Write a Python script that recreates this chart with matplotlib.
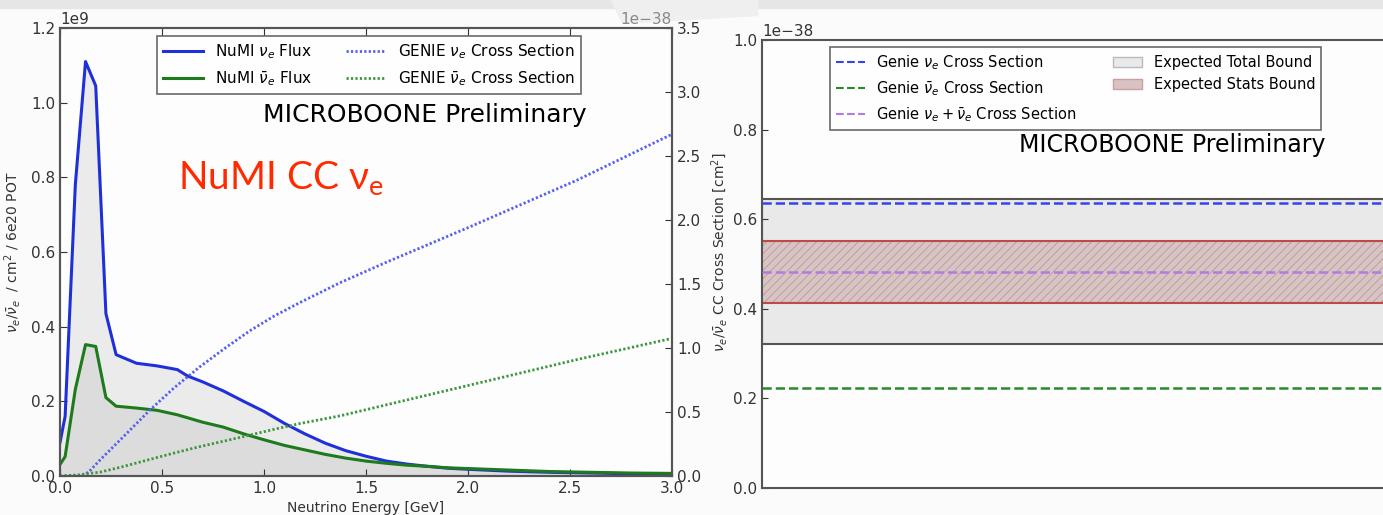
import numpy as np
import matplotlib
matplotlib.use('Agg')
import matplotlib.pyplot as plt
from matplotlib.patches import Patch, Rectangle, Polygon
from matplotlib.lines import Line2D

plt.rcParams['font.family'] = ['DejaVu Sans']
plt.rcParams['hatch.linewidth'] = 0.6

# flux (units of 1e9 / cm2 / 6e20 POT)
energy = [0.0, 0.025, 0.075, 0.125, 0.175, 0.225, 0.275, 0.375, 0.475, 0.575,
          0.625, 0.7, 0.8, 0.9, 1.0, 1.1, 1.2, 1.3, 1.4, 1.5,
          1.6, 1.7, 1.8, 1.9, 2.0, 2.2, 2.4, 2.6, 2.8, 3.0]
flux_nue = [0.09, 0.16, 0.78, 1.11, 1.045, 0.435, 0.325, 0.302, 0.295, 0.285,
            0.268, 0.252, 0.228, 0.2, 0.173, 0.141, 0.113, 0.088, 0.068, 0.053,
            0.04, 0.032, 0.026, 0.021, 0.018, 0.013, 0.01, 0.008, 0.006, 0.005]
flux_nuebar = [0.031, 0.052, 0.232, 0.352, 0.347, 0.21, 0.187, 0.182, 0.176, 0.164,
               0.156, 0.144, 0.131, 0.113, 0.097, 0.082, 0.07, 0.058, 0.048, 0.04,
               0.034, 0.029, 0.026, 0.022, 0.02, 0.016, 0.012, 0.01, 0.008, 0.007]

# GENIE cross sections (units of 1e-38 cm2)
xs_energy = [0.0, 0.1, 0.14, 0.196, 0.3, 0.441, 0.56, 0.686, 0.81, 0.931, 1.05, 1.176,
             1.373, 1.6, 2.0, 2.533, 3.0]
xs_nue = [0.0, 0.0, 0.03, 0.125, 0.29, 0.516, 0.69, 0.854, 1.0, 1.135, 1.25, 1.355,
          1.51, 1.67, 1.94, 2.31, 2.67]
xs_nuebar = [0.0, 0.01, 0.02, 0.03, 0.07, 0.13, 0.18, 0.23, 0.275, 0.32, 0.365, 0.41,
             0.47, 0.556, 0.707, 0.909, 1.075]

# flux averaged cross sections and bounds (1e-38 cm2)
xs_avg_nue = 0.636
xs_avg_nuebar = 0.223
xs_avg_both = 0.482
total_bound = [0.322, 0.645]
stats_bound = [0.414, 0.552]

fig = plt.figure(figsize=(13.83, 5.15), dpi=100, facecolor='#fbfbfb')

# faint slide edge at the top
fig.patches.append(Rectangle((0, 0.985), 1, 0.015, transform=fig.transFigure,
                             color='#e6e6e6', zorder=-1))
fig.patches.append(Polygon([[0.442, 1.0], [0.548, 1.0], [0.548, 0.97], [0.45, 0.955]],
                           closed=True, transform=fig.transFigure, color='#efefef', zorder=-1))

c_blue = '#2030d8'
c_green = '#1d7a1d'

ax = fig.add_axes([0.0434, 0.0757, 0.4425, 0.87])
ax.set_facecolor('#fdfdfd')
e = np.array(energy)
ax.fill_between(e, np.array(flux_nue) * 1e9, color='#888888', alpha=0.15, lw=0)
ax.fill_between(e, np.array(flux_nuebar) * 1e9, color='#888888', alpha=0.15, lw=0)
ax.plot(e, np.array(flux_nue) * 1e9, color=c_blue, lw=2.2, label=r'NuMI $\nu_e$ Flux')
ax.plot(e, np.array(flux_nuebar) * 1e9, color=c_green, lw=2.2, label=r'NuMI $\bar{\nu}_e$ Flux')
ax.set_xlim(0, 3.0)
ax.set_ylim(0, 1.2e9)
ax.set_xlabel('Neutrino Energy [GeV]', fontsize=10, labelpad=4, color='#333333')
ax.set_ylabel(r'$\nu_e/\bar{\nu}_e$  / cm$^2$ / 6e20 POT', fontsize=10, labelpad=6, color='#333333')
ax.tick_params(direction='in', top=True, right=False, labelsize=11, length=5, colors='#333333')
ax.yaxis.get_offset_text().set_fontsize(11)

ax2 = ax.twinx()
ax2.plot(xs_energy, np.array(xs_nue) * 1e-38, ls=(0, (0.8, 0.8)), lw=2.0, color='#5560f0',
         label=r'GENIE $\nu_e$ Cross Section')
ax2.plot(xs_energy, np.array(xs_nuebar) * 1e-38, ls=(0, (0.8, 0.8)), lw=2.0, color='#3f963f',
         label=r'GENIE $\bar{\nu}_e$ Cross Section')
ax2.set_ylim(0, 3.5e-38)
ax2.set_xlim(0, 3.0)
ax2.set_ylabel(r'$\nu_e/\bar{\nu}_e$ CC Cross Section [cm$^2$]', fontsize=10, labelpad=6, color='#333333')
ax2.tick_params(direction='in', labelsize=11, length=5, colors='#333333')
ax2.yaxis.get_offset_text().set_fontsize(11)
ax2.yaxis.get_offset_text().set_color('#888888')
for a in (ax, ax2):
    for s in a.spines.values():
        s.set_color('#555555')
        s.set_linewidth(1.5)

h1, l1 = ax.get_legend_handles_labels()
h2, l2 = ax2.get_legend_handles_labels()
leg = ax2.legend(h1 + h2, l1 + l2, loc='upper center', ncol=2, fontsize=11,
                 bbox_to_anchor=(0.505, 0.982), borderaxespad=0, fancybox=False,
                 edgecolor='#444444', columnspacing=2.2, handlelength=2.6, labelspacing=0.55)
leg.get_frame().set_linewidth(1.2)
ax2.text(0.86, 0.806, 'MICROBOONE Preliminary', transform=ax2.transAxes, ha='right',
         va='center', fontsize=18)
ax2.text(0.193, 0.665, r'NuMI CC $\mathregular{\nu_e}$', transform=ax2.transAxes,
         ha='left', va='center', fontsize=28, color='#ff2a00', family='Lato')

# right panel: flux averaged cross sections
bx = fig.add_axes([0.551, 0.0524, 0.458, 0.870])
bx.set_facecolor('#fdfdfd')
bx.set_xlim(0, 1)
bx.set_ylim(0, 1.0e-38)
bx.axhspan(total_bound[0] * 1e-38, total_bound[1] * 1e-38, facecolor='#e9e9e9',
           edgecolor='#555555', lw=1.5, zorder=1)
bx.axhspan(stats_bound[0] * 1e-38, stats_bound[1] * 1e-38, facecolor='#d9c4c4',
           edgecolor='#b89a9a', lw=0, hatch='////', zorder=2)
bx.axhline(stats_bound[0] * 1e-38, color='#c04848', lw=1.5, zorder=2)
bx.axhline(stats_bound[1] * 1e-38, color='#c04848', lw=1.5, zorder=2)
bx.axhline(xs_avg_nue * 1e-38, ls='--', lw=1.8, color='#3344ee', zorder=3)
bx.axhline(xs_avg_nuebar * 1e-38, ls='--', lw=1.8, color='#2a8a2a', zorder=3)
bx.axhline(xs_avg_both * 1e-38, ls='--', lw=1.8, color='#b47ae0', zorder=3)
bx.set_xticks([])
bx.tick_params(direction='in', labelsize=11, length=4, colors='#333333')
bx.yaxis.get_offset_text().set_fontsize(11)
for s in bx.spines.values():
    s.set_color('#555555')
    s.set_linewidth(1.5)

handles = [Line2D([], [], ls='--', lw=1.5, color='#3344ee'),
           Line2D([], [], ls='--', lw=1.5, color='#2a8a2a'),
           Line2D([], [], ls='--', lw=1.5, color='#b47ae0'),
           Patch(facecolor='#e9e9e9', edgecolor='#bbbbbb'),
           Patch(facecolor='#d9c2c2', edgecolor='#c9a0a0')]
labels = [r'Genie $\nu_e$ Cross Section', r'Genie $\bar{\nu}_e$ Cross Section',
          r'Genie $\nu_e + \bar{\nu}_e$ Cross Section',
          'Expected Total Bound', 'Expected Stats Bound']
lg = bx.legend(handles, labels, loc='upper center', ncol=2, fontsize=10.5,
               bbox_to_anchor=(0.495, 0.984), borderaxespad=0, fancybox=False,
               edgecolor='#444444', columnspacing=2.5, handlelength=2.0, labelspacing=0.5)
lg.get_frame().set_linewidth(1.2)
bx.text(0.89, 0.765, 'MICROBOONE Preliminary', transform=bx.transAxes, ha='right',
        va='center', fontsize=17)

fig.savefig('out.png', dpi=100, facecolor=fig.get_facecolor())
